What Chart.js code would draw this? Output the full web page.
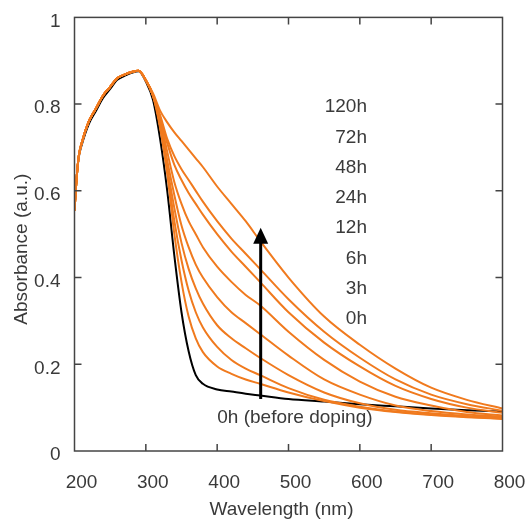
<!DOCTYPE html>
<html>
<head>
<meta charset="utf-8">
<title>Absorbance spectra</title>
<script src="https://cdn.jsdelivr.net/npm/chart.js@4.4.1/dist/chart.umd.min.js"></script>
<style>
  html, body { margin: 0; padding: 0; background: #fff; }
  canvas { display: block; }
</style>
</head>
<body>
<canvas id="spectraChart" width="531" height="521"></canvas>
<script>
// Absorbance spectra vs wavelength, one curve per doping time

const wavelengths = [200, 203, 206, 210, 220, 230, 240, 250, 260, 270, 280, 290, 300,
    310, 320, 330, 340, 350, 360, 370, 380, 400, 420, 440, 460, 500, 550, 600, 650, 700, 750, 800];

const beforeDoping = [0.555, 0.63, 0.678, 0.705, 0.754, 0.784, 0.814, 0.835, 0.856, 0.865, 0.872, 0.876, 0.852,
    0.81, 0.72, 0.60, 0.45, 0.32, 0.23, 0.175, 0.155, 0.142, 0.137, 0.132, 0.128, 0.12, 0.114, 0.108, 0.103, 0.098, 0.094, 0.091];
const h0 = [0.555, 0.63, 0.68, 0.71, 0.76, 0.79, 0.82, 0.84, 0.86, 0.868, 0.874, 0.877, 0.855,
    0.82, 0.745, 0.64, 0.50, 0.39, 0.31, 0.26, 0.228, 0.195, 0.178, 0.165, 0.155, 0.135, 0.115, 0.10, 0.09, 0.083, 0.078, 0.074];
const h3 = [0.555, 0.63, 0.68, 0.71, 0.76, 0.79, 0.82, 0.84, 0.86, 0.868, 0.874, 0.877, 0.855,
    0.82, 0.75, 0.645, 0.53, 0.44, 0.37, 0.32, 0.285, 0.24, 0.21, 0.19, 0.175, 0.145, 0.118, 0.102, 0.091, 0.084, 0.079, 0.075];
const h6 = [0.555, 0.63, 0.68, 0.71, 0.76, 0.79, 0.82, 0.84, 0.86, 0.868, 0.874, 0.877, 0.855,
    0.82, 0.755, 0.655, 0.56, 0.48, 0.42, 0.375, 0.34, 0.29, 0.26, 0.237, 0.215, 0.175, 0.135, 0.11, 0.095, 0.087, 0.081, 0.077];
const h12 = [0.555, 0.63, 0.68, 0.71, 0.76, 0.79, 0.82, 0.84, 0.86, 0.868, 0.874, 0.877, 0.855,
    0.82, 0.76, 0.67, 0.59, 0.52, 0.47, 0.43, 0.40, 0.355, 0.32, 0.295, 0.27, 0.22, 0.165, 0.13, 0.105, 0.092, 0.084, 0.079];
const h24 = [0.555, 0.63, 0.68, 0.71, 0.76, 0.79, 0.82, 0.84, 0.86, 0.868, 0.874, 0.877, 0.855,
    0.82, 0.765, 0.69, 0.62, 0.57, 0.53, 0.50, 0.47, 0.425, 0.39, 0.36, 0.336, 0.275, 0.21, 0.16, 0.125, 0.105, 0.09, 0.082];
const h48 = [0.555, 0.63, 0.68, 0.71, 0.76, 0.79, 0.82, 0.84, 0.86, 0.868, 0.874, 0.877, 0.855,
    0.82, 0.77, 0.71, 0.66, 0.625, 0.595, 0.57, 0.545, 0.50, 0.46, 0.425, 0.39, 0.32, 0.25, 0.195, 0.15, 0.12, 0.10, 0.088];
const h72 = [0.555, 0.63, 0.68, 0.71, 0.76, 0.79, 0.82, 0.84, 0.86, 0.868, 0.874, 0.877, 0.855,
    0.82, 0.775, 0.72, 0.68, 0.65, 0.625, 0.60, 0.575, 0.53, 0.49, 0.455, 0.42, 0.35, 0.275, 0.215, 0.165, 0.13, 0.108, 0.093];
const h120 = [0.555, 0.63, 0.68, 0.71, 0.76, 0.79, 0.82, 0.84, 0.86, 0.868, 0.874, 0.877, 0.855,
    0.825, 0.785, 0.758, 0.735, 0.715, 0.695, 0.675, 0.655, 0.61, 0.57, 0.53, 0.485, 0.40, 0.31, 0.245, 0.19, 0.146, 0.118, 0.098];

const timeLabels = ['120h', '72h', '48h', '24h', '12h', '6h', '3h', '0h'];
const beforeLabel = '0h (before doping)';
const xTicks = [200, 300, 400, 500, 600, 700, 800];
const yTicks = [0, 0.2, 0.4, 0.6, 0.8, 1];

// Colors / fonts
const orange = '#F07A1E';
const textColor = '#3a3a3a';
const axisColor = '#444';
const fontFamily = '"Liberation Sans", Arial, sans-serif';

function toPoints(values) {
    return wavelengths.map((w, i) => ({ x: w, y: values[i] }));
}

function spectrum(values, color) {
    return {
        data: toPoints(values),
        borderColor: color,
        borderWidth: 2,
        pointRadius: 0,
        fill: false,
        cubicInterpolationMode: 'monotone'
    };
}

// box, inward ticks, arrow, labels and axis titles
const annotations = {
    id: 'annotations',
    afterDraw(chart) {
        const { ctx, chartArea: a, scales: { x, y } } = chart;
        ctx.save();

        ctx.strokeStyle = axisColor;
        ctx.lineWidth = 1.5;
        ctx.strokeRect(a.left, a.top, a.right - a.left, a.bottom - a.top);
        ctx.beginPath();
        xTicks.slice(1, -1).forEach(v => {
            const px = x.getPixelForValue(v);
            ctx.moveTo(px, a.bottom); ctx.lineTo(px, a.bottom - 7);
            ctx.moveTo(px, a.top); ctx.lineTo(px, a.top + 7);
        });
        yTicks.slice(1, -1).forEach(v => {
            const py = y.getPixelForValue(v);
            ctx.moveTo(a.left, py); ctx.lineTo(a.left + 7, py);
            ctx.moveTo(a.right, py); ctx.lineTo(a.right - 7, py);
        });
        ctx.stroke();

        // arrow
        const ax = x.getPixelForValue(461);
        const y0 = y.getPixelForValue(0.12);
        const y1 = y.getPixelForValue(0.515);
        ctx.strokeStyle = '#000';
        ctx.fillStyle = '#000';
        ctx.lineWidth = 3;
        ctx.beginPath();
        ctx.moveTo(ax, y0);
        ctx.lineTo(ax, y1 + 12);
        ctx.stroke();
        ctx.beginPath();
        ctx.moveTo(ax, y1);
        ctx.lineTo(ax - 7.5, y1 + 16);
        ctx.lineTo(ax + 7.5, y1 + 16);
        ctx.closePath();
        ctx.fill();

        // time labels
        ctx.fillStyle = textColor;
        ctx.font = '19px ' + fontFamily;
        ctx.textAlign = 'right';
        ctx.textBaseline = 'middle';
        const lx = x.getPixelForValue(610);
        timeLabels.forEach((t, i) => {
            ctx.fillText(t, lx, y.getPixelForValue(0.793 - i * 0.0698));
        });
        ctx.textAlign = 'center';
        ctx.fillText(beforeLabel, x.getPixelForValue(509), y.getPixelForValue(0.077));

        // axis titles
        ctx.fillText('Wavelength (nm)', (a.left + a.right) / 2 - 7, 510);
        ctx.translate(22, (a.top + a.bottom) / 2 + 15);
        ctx.rotate(-Math.PI / 2);
        ctx.fillText('Absorbance (a.u.)', 0, 0);

        ctx.restore();
    }
};

// first dataset ends up on top, so the black curve goes last (underneath)
new Chart(document.getElementById('spectraChart'), {
    type: 'line',
    data: {
        datasets: [
            spectrum(h120, orange),
            spectrum(h72, orange),
            spectrum(h48, orange),
            spectrum(h24, orange),
            spectrum(h12, orange),
            spectrum(h6, orange),
            spectrum(h3, orange),
            spectrum(h0, orange),
            spectrum(beforeDoping, '#000')
        ]
    },
    options: {
        responsive: false,
        animation: false,
        layout: { padding: { top: 11, right: 28.5, bottom: 0, left: 0 } },
        plugins: {
            legend: { display: false },
            tooltip: { enabled: false }
        },
        scales: {
            x: {
                type: 'linear',
                min: 200,
                max: 800,
                afterBuildTicks: s => { s.ticks = xTicks.map(v => ({ value: v })); },
                afterFit: s => { s.height = 70; },
                grid: { display: false },
                border: { display: false },
                ticks: {
                    color: textColor,
                    font: { family: fontFamily, size: 19 },
                    padding: 12,
                    labelOffset: 7,
                    maxRotation: 0,
                    autoSkip: false
                }
            },
            y: {
                min: 0,
                max: 1,
                afterBuildTicks: s => { s.ticks = yTicks.map(v => ({ value: v })); },
                afterFit: s => { s.width = 74.5; },
                grid: { display: false },
                border: { display: false },
                ticks: {
                    color: textColor,
                    font: { family: fontFamily, size: 19 },
                    padding: 6,
                    labelOffset: 4,
                    callback: v => String(v)
                }
            }
        }
    },
    plugins: [annotations]
});
</script>
</body>
</html>
